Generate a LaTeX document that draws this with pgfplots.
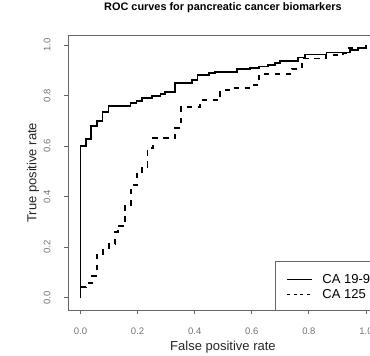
\documentclass[border=0pt]{standalone}
\usepackage{pgfplots}
\pgfplotsset{compat=1.18}
\usepackage{fontspec}
\setmainfont{Liberation Sans}

% ROC curve of CA 19-9 (step points: FPR, TPR after each jump)
\pgfplotstableread{
fpr    tpr
0.000  0.000
0.000  0.600
0.020  0.627
0.038  0.680
0.058  0.700
0.077  0.735
0.098  0.760
0.175  0.770
0.196  0.780
0.216  0.790
0.250  0.800
0.280  0.806
0.297  0.815
0.332  0.850
0.390  0.862
0.410  0.882
0.450  0.890
0.472  0.895
0.548  0.905
0.594  0.910
0.624  0.915
0.657  0.920
0.680  0.930
0.700  0.938
0.763  0.951
0.787  0.963
0.862  0.971
0.944  0.980
0.972  0.990
1.000  1.000
}\caninetynine

% ROC curve of CA 125
\pgfplotstableread{
fpr    tpr
0.000  0.000
0.000  0.042
0.020  0.058
0.040  0.087
0.058  0.170
0.080  0.196
0.100  0.213
0.120  0.262
0.130  0.285
0.157  0.368
0.177  0.447
0.198  0.490
0.216  0.519
0.235  0.592
0.254  0.631
0.332  0.671
0.352  0.755
0.420  0.783
0.490  0.822
0.520  0.830
0.600  0.842
0.625  0.885
0.740  0.905
0.775  0.947
0.860  0.960
0.920  0.970
0.940  0.990
1.000  1.000
}\caonetwofive

\begin{document}
\begin{tikzpicture}[x=1pt,y=1pt]
\useasboundingbox (0,0) rectangle (370,356);
\clip (0,0) rectangle (370,356);
\begin{axis}[
  at={(68.5pt,45.5pt)}, anchor=south west,
  scale only axis, width=308.9pt, height=275.5pt,
  xmin=-0.042, xmax=1.04, ymin=-0.05, ymax=1.04,
  axis line style={draw=black!60, line width=0.8pt},
  tick style={draw=black!60, line width=0.8pt},
  tick align=outside, major tick length=4pt,
  xtick pos=left, ytick pos=left,
  xtick={0,0.2,0.4,0.6,0.8,1.0},
  ytick={0,0.2,0.4,0.6,0.8,1.0},
  xticklabels={0.0,0.2,0.4,0.6,0.8,1.0},
  yticklabels={0.0,0.2,0.4,0.6,0.8,1.0},
  xticklabel style={font=\fontsize{9.5}{10}\selectfont, text=black!55, anchor=center, yshift=-16.5pt},
  yticklabel style={font=\fontsize{9.5}{10}\selectfont, text=black!55, xshift=-17.5pt, rotate=90, anchor=center},
  title={ROC curves for pancreatic cancer biomarkers},
  title style={font=\fontsize{10.9}{12}\selectfont\bfseries, at={(axis description cs:0.5,1.076)}, anchor=center},
  xlabel={False positive rate},
  xlabel style={font=\fontsize{13}{14}\selectfont, text=black!85, at={(axis description cs:0.5,-0.1325)}, anchor=center},
  ylabel={True positive rate},
  ylabel style={font=\fontsize{13}{14}\selectfont, text=black!85, at={(axis description cs:-0.115,0.5)}, anchor=center},
  legend style={at={(rel axis cs:0.704,0.085)}, anchor=west, draw=none, fill=none,
    inner sep=0pt, row sep=3pt, column sep=4pt,
    font=\fontsize{13}{14}\selectfont,
    nodes={inner xsep=5.5pt, inner ysep=0pt, text height=9.5pt, text depth=2.5pt}},
  legend cell align=left,
  legend image code/.code={\draw[#1] (0pt,0pt) -- (25pt,0pt);},
]
\addplot[const plot, black, line width=1.8pt, line join=miter] table[x=fpr, y=tpr] {\caninetynine};
\addlegendentry{CA 19-9}
\addplot[const plot, black, line width=1.8pt, dash pattern=on 5.5pt off 5.5pt,
  legend image post style={line width=1.3pt, dash pattern=on 3pt off 3.5pt}] table[x=fpr, y=tpr] {\caonetwofive};
\addlegendentry{CA 125}
\draw[black!60, line width=0.8pt] (rel axis cs:0.6685,0) rectangle (rel axis cs:1,0.1797);
\end{axis}
\end{tikzpicture}
\end{document}
